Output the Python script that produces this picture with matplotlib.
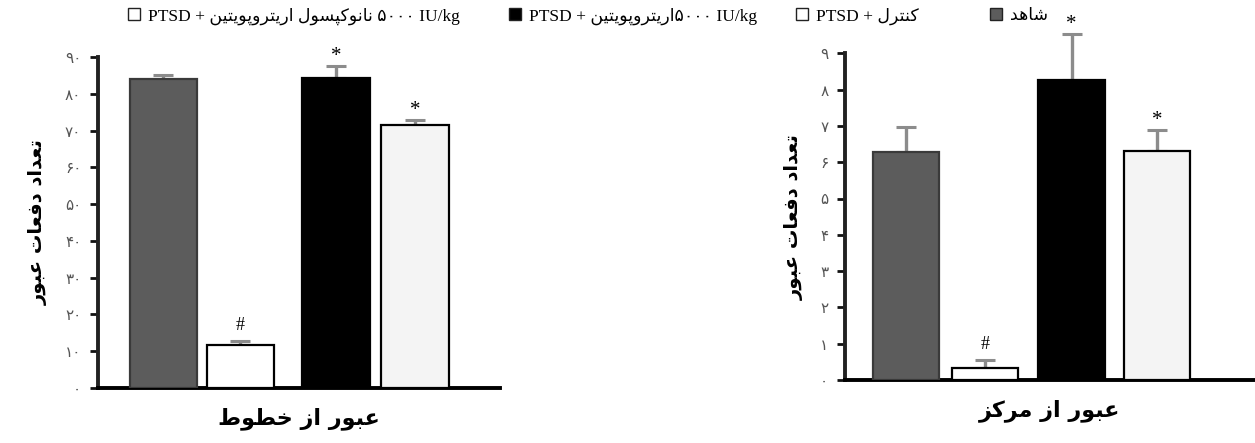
import matplotlib
matplotlib.use("Agg")
import matplotlib.pyplot as plt
from matplotlib.patches import Patch

# ---------------------------------------------------------------
# data
# ---------------------------------------------------------------
GROUPS = ["شاهد", "کنترل", "اریتروپویتین", "نانوکپسول اریتروپویتین"]
LINES_MEAN = [84.0, 11.8, 84.3, 71.4]      # عبور از خطوط
LINES_SEM = [1.0, 1.0, 3.2, 1.5]
CENTER_MEAN = [6.28, 0.33, 8.27, 6.30]     # عبور از مرکز
CENTER_SEM = [0.68, 0.21, 1.26, 0.60]
LINES_MARK = ["", "#", "*", "*"]
CENTER_MARK = ["", "#", "*", "*"]
LINES_TICKS = [0, 10, 20, 30, 40, 50, 60, 70, 80, 90]
CENTER_TICKS = [0, 1, 2, 3, 4, 5, 6, 7, 8, 9]

BAR_FACE = ["#5c5c5c", "#ffffff", "#000000", "#f4f4f4"]
BAR_EDGE = ["#3a3a3a", "#000000", "#000000", "#000000"]

# ---------------------------------------------------------------
# tiny persian shaper (presentation forms + visual order)
# ---------------------------------------------------------------
FORMS = {
    'ا': (0xFE8D, 0xFE8E), 'ب': (0xFE8F, 0xFE90, 0xFE91, 0xFE92),
    'پ': (0xFB56, 0xFB57, 0xFB58, 0xFB59), 'ت': (0xFE95, 0xFE96, 0xFE97, 0xFE98),
    'خ': (0xFEA5, 0xFEA6, 0xFEA7, 0xFEA8), 'د': (0xFEA9, 0xFEAA),
    'ر': (0xFEAD, 0xFEAE), 'ز': (0xFEAF, 0xFEB0),
    'س': (0xFEB1, 0xFEB2, 0xFEB3, 0xFEB4), 'ش': (0xFEB5, 0xFEB6, 0xFEB7, 0xFEB8),
    'ط': (0xFEC1, 0xFEC2, 0xFEC3, 0xFEC4), 'ع': (0xFEC9, 0xFECA, 0xFECB, 0xFECC),
    'ف': (0xFED1, 0xFED2, 0xFED3, 0xFED4), 'ک': (0xFB8E, 0xFB8F, 0xFB90, 0xFB91),
    'ل': (0xFEDD, 0xFEDE, 0xFEDF, 0xFEE0), 'م': (0xFEE1, 0xFEE2, 0xFEE3, 0xFEE4),
    'ن': (0xFEE5, 0xFEE6, 0xFEE7, 0xFEE8), 'ه': (0xFEE9, 0xFEEA, 0xFEEB, 0xFEEC),
    'و': (0xFEED, 0xFEEE), 'ی': (0xFBFC, 0xFBFD, 0xFBFE, 0xFBFF),
}


def fa(s):
    out = []
    for i, ch in enumerate(s):
        if ch not in FORMS:
            out.append(ch)
            continue
        f = FORMS[ch]
        prev = s[i - 1] if i > 0 else ''
        nxt = s[i + 1] if i + 1 < len(s) else ''
        jp = prev in FORMS and len(FORMS[prev]) == 4
        jn = len(f) == 4 and nxt in FORMS
        if jp and jn:
            g = f[3]
        elif jp:
            g = f[1]
        elif jn:
            g = f[2]
        else:
            g = f[0]
        out.append(chr(g))
    return ''.join(out)[::-1]


def fa_num(n):
    return str(n).translate(str.maketrans('0123456789', '۰۱۲۳۴۵۶۷۸۹'))


# ---------------------------------------------------------------
# figure
# ---------------------------------------------------------------
fig = plt.figure(figsize=(12.55, 4.43), dpi=100)
FA_FONT = ['DejaVu Sans']
SERIF = ['Liberation Serif', 'DejaVu Sans']


def panel(rect, pos, width, xlim, means, sems, marks, ticks, xlabel):
    ax = fig.add_axes(rect)
    ax.bar(pos, means, width, color=BAR_FACE, edgecolor=BAR_EDGE, linewidth=1.6,
           zorder=3)
    ax.errorbar(pos, means, yerr=[[0] * 4, sems], fmt='none', ecolor='#8c8c8c',
                elinewidth=2.4, capsize=7, capthick=2.2, zorder=2, clip_on=False)
    for x, m, s, t in zip(pos, means, sems, marks):
        if t:
            ax.annotate(t, (x, m + s), xytext=(0, 0 if t == '*' else 5),
                        textcoords='offset points', ha='center', va='bottom',
                        fontsize=15 if t == '*' else 13, family=SERIF,
                        annotation_clip=False)
    ax.set_xlim(*xlim)
    ax.set_ylim(ticks[0], ticks[-1])
    ax.set_yticks(ticks, [fa_num(t) for t in ticks])
    ax.set_xticks([])
    for s in ['top', 'right']:
        ax.spines[s].set_visible(False)
    ax.spines['left'].set_linewidth(2.8)
    ax.spines['left'].set_color('#222222')
    ax.spines['bottom'].set_linewidth(2.8)
    ax.spines['bottom'].set_color('#000000')
    ax.tick_params(axis='y', length=6, width=2, color='#111111', labelsize=11,
                   labelcolor='#555555', pad=6)
    for lab in ax.get_yticklabels():
        lab.set_family(FA_FONT)
    ax.set_ylabel(fa("تعداد دفعات عبور"), fontsize=14, fontweight='bold',
                  family=FA_FONT, labelpad=12)
    ax.set_xlabel(fa(xlabel), fontsize=16, fontweight='bold', family=FA_FONT,
                  labelpad=14)
    return ax


panel([98 / 1255, 55 / 443, 402 / 1255, 331 / 443], [0, 1, 2.24, 3.27], 0.88,
      (-0.85, 4.37), LINES_MEAN, LINES_SEM, LINES_MARK, LINES_TICKS, "عبور از خطوط")
panel([845 / 1255, 63 / 443, 410 / 1255, 326.7 / 443], [0, 0.99, 2.07, 3.14], 0.83,
      (-0.7625, 4.3625), CENTER_MEAN, CENTER_SEM, CENTER_MARK, CENTER_TICKS,
      "عبور از مرکز")

# legend row, each entry placed on its own
legend_items = [
    ("PTSD + " + fa(GROUPS[3]) + " ۵۰۰۰ IU/kg", 1, 128),
    ("PTSD + " + fa(GROUPS[2]) + "۵۰۰۰ IU/kg", 2, 509),
    ("PTSD + " + fa(GROUPS[1]), 1, 796),
    (fa(GROUPS[0]), 0, 990),
]
for text, k, xpix in legend_items:
    h = Patch(facecolor=BAR_FACE[k], edgecolor='#222222', linewidth=1.0)
    fig.legend([h], [text], loc='center left', bbox_to_anchor=(xpix / 1255, 1 - 16 / 443),
               frameon=False, handlelength=0.7, handleheight=0.7, handletextpad=0.45,
               borderpad=0, borderaxespad=0, prop={'family': SERIF, 'size': 12.5})

fig.savefig("out.png", dpi=100, facecolor='white')
